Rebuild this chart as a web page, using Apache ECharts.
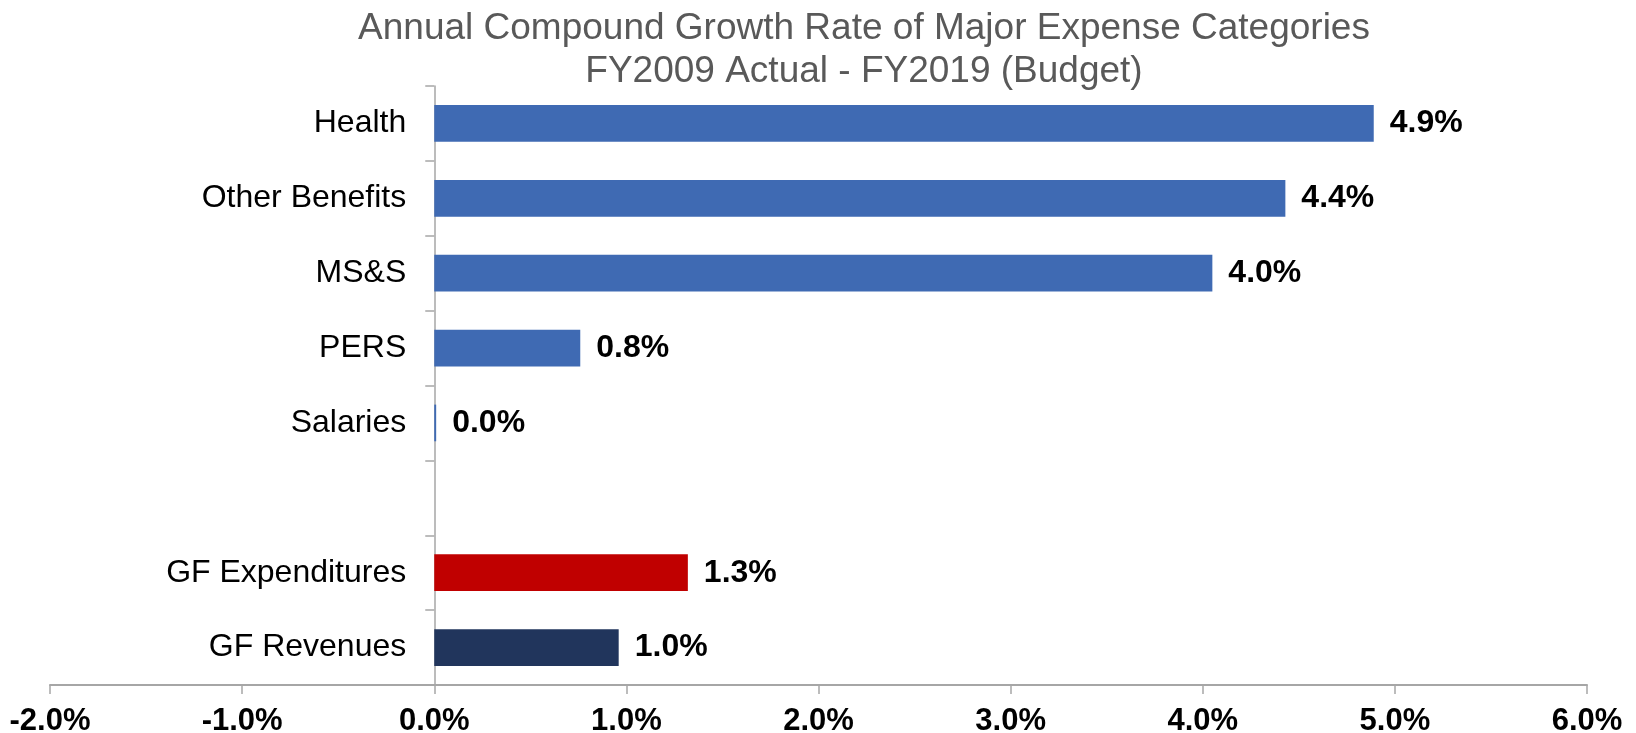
<!DOCTYPE html>
<html>
<head>
<meta charset="utf-8">
<script src="https://cdn.jsdelivr.net/npm/echarts@6/dist/echarts.min.js"></script>
<style>
html,body{margin:0;padding:0;background:#fff;}
#chart{width:1636px;height:733px;}
</style>
</head>
<body>
<div id="chart"></div>
<script>
const titleLines = ['Annual Compound Growth Rate of Major Expense Categories', 'FY2009 Actual - FY2019 (Budget)'];
const categories = ['Health', 'Other Benefits', 'MS&S', 'PERS', 'Salaries', '', 'GF Expenditures', 'GF Revenues'];
const growthRates = [4.89, 4.43, 4.05, 0.76, 0.01, null, 1.32, 0.96];
const xTicks = { min: -2, max: 6, interval: 1 };

const barColor = function (p) {
  if (p.name === 'GF Expenditures') return '#C00000';
  if (p.name === 'GF Revenues') return '#21355C';
  return '#3F6AB3';
};

const gridLeft = 50, gridRight = 49;
const chartWidth = 1636;
// distance from grid left edge to the zero line, computed from axis range
const plotW = chartWidth - gridLeft - gridRight;
const zeroOffset = plotW * (0 - xTicks.min) / (xTicks.max - xTicks.min);

const chart = echarts.init(document.getElementById('chart'), null, { renderer: 'canvas' });
chart.setOption({
  animation: false,
  backgroundColor: '#ffffff',
  title: {
    text: titleLines.join('\n'),
    left: 859,
    textAlign: 'center',
    top: 2,
    textStyle: {
      fontFamily: 'Liberation Sans, Arial, sans-serif',
      fontSize: 37,
      fontWeight: 'normal',
      color: '#595959',
      lineHeight: 43
    }
  },
  grid: { left: gridLeft, right: gridRight, top: 86, bottom: 48, containLabel: false, outerBoundsMode: 'none' },
  xAxis: {
    type: 'value',
    min: xTicks.min,
    max: xTicks.max,
    interval: xTicks.interval,
    splitLine: { show: false },
    axisLine: { show: true, lineStyle: { color: '#A6A6A6', width: 2 } },
    axisTick: { show: true, length: 9, lineStyle: { color: '#A6A6A6', width: 1.5 } },
    axisLabel: {
      margin: 21,
      formatter: v => v.toFixed(1) + '%',
      fontFamily: 'Liberation Sans, Arial, sans-serif',
      fontWeight: 'bold',
      fontSize: 31,
      color: '#000'
    }
  },
  yAxis: {
    type: 'category',
    data: categories,
    inverse: true,
    axisLine: { show: true, onZero: true, lineStyle: { color: '#A6A6A6', width: 1.5 } },
    axisTick: { show: true, length: 9, alignWithLabel: false, lineStyle: { color: '#A6A6A6', width: 1.5 } },
    axisLabel: {
      margin: 28 - zeroOffset,
      fontFamily: 'Liberation Sans, Arial, sans-serif',
      fontSize: 32,
      color: '#000'
    }
  },
  series: [{
    type: 'bar',
    data: growthRates,
    barWidth: '49%',
    itemStyle: { color: barColor },
    label: {
      show: true,
      position: 'right',
      distance: 16,
      formatter: p => (p.value == null ? '' : p.value.toFixed(1) + '%'),
      fontFamily: 'Liberation Sans, Arial, sans-serif',
      fontWeight: 'bold',
      fontSize: 32,
      color: '#000'
    }
  }]
});
</script>
</body>
</html>
